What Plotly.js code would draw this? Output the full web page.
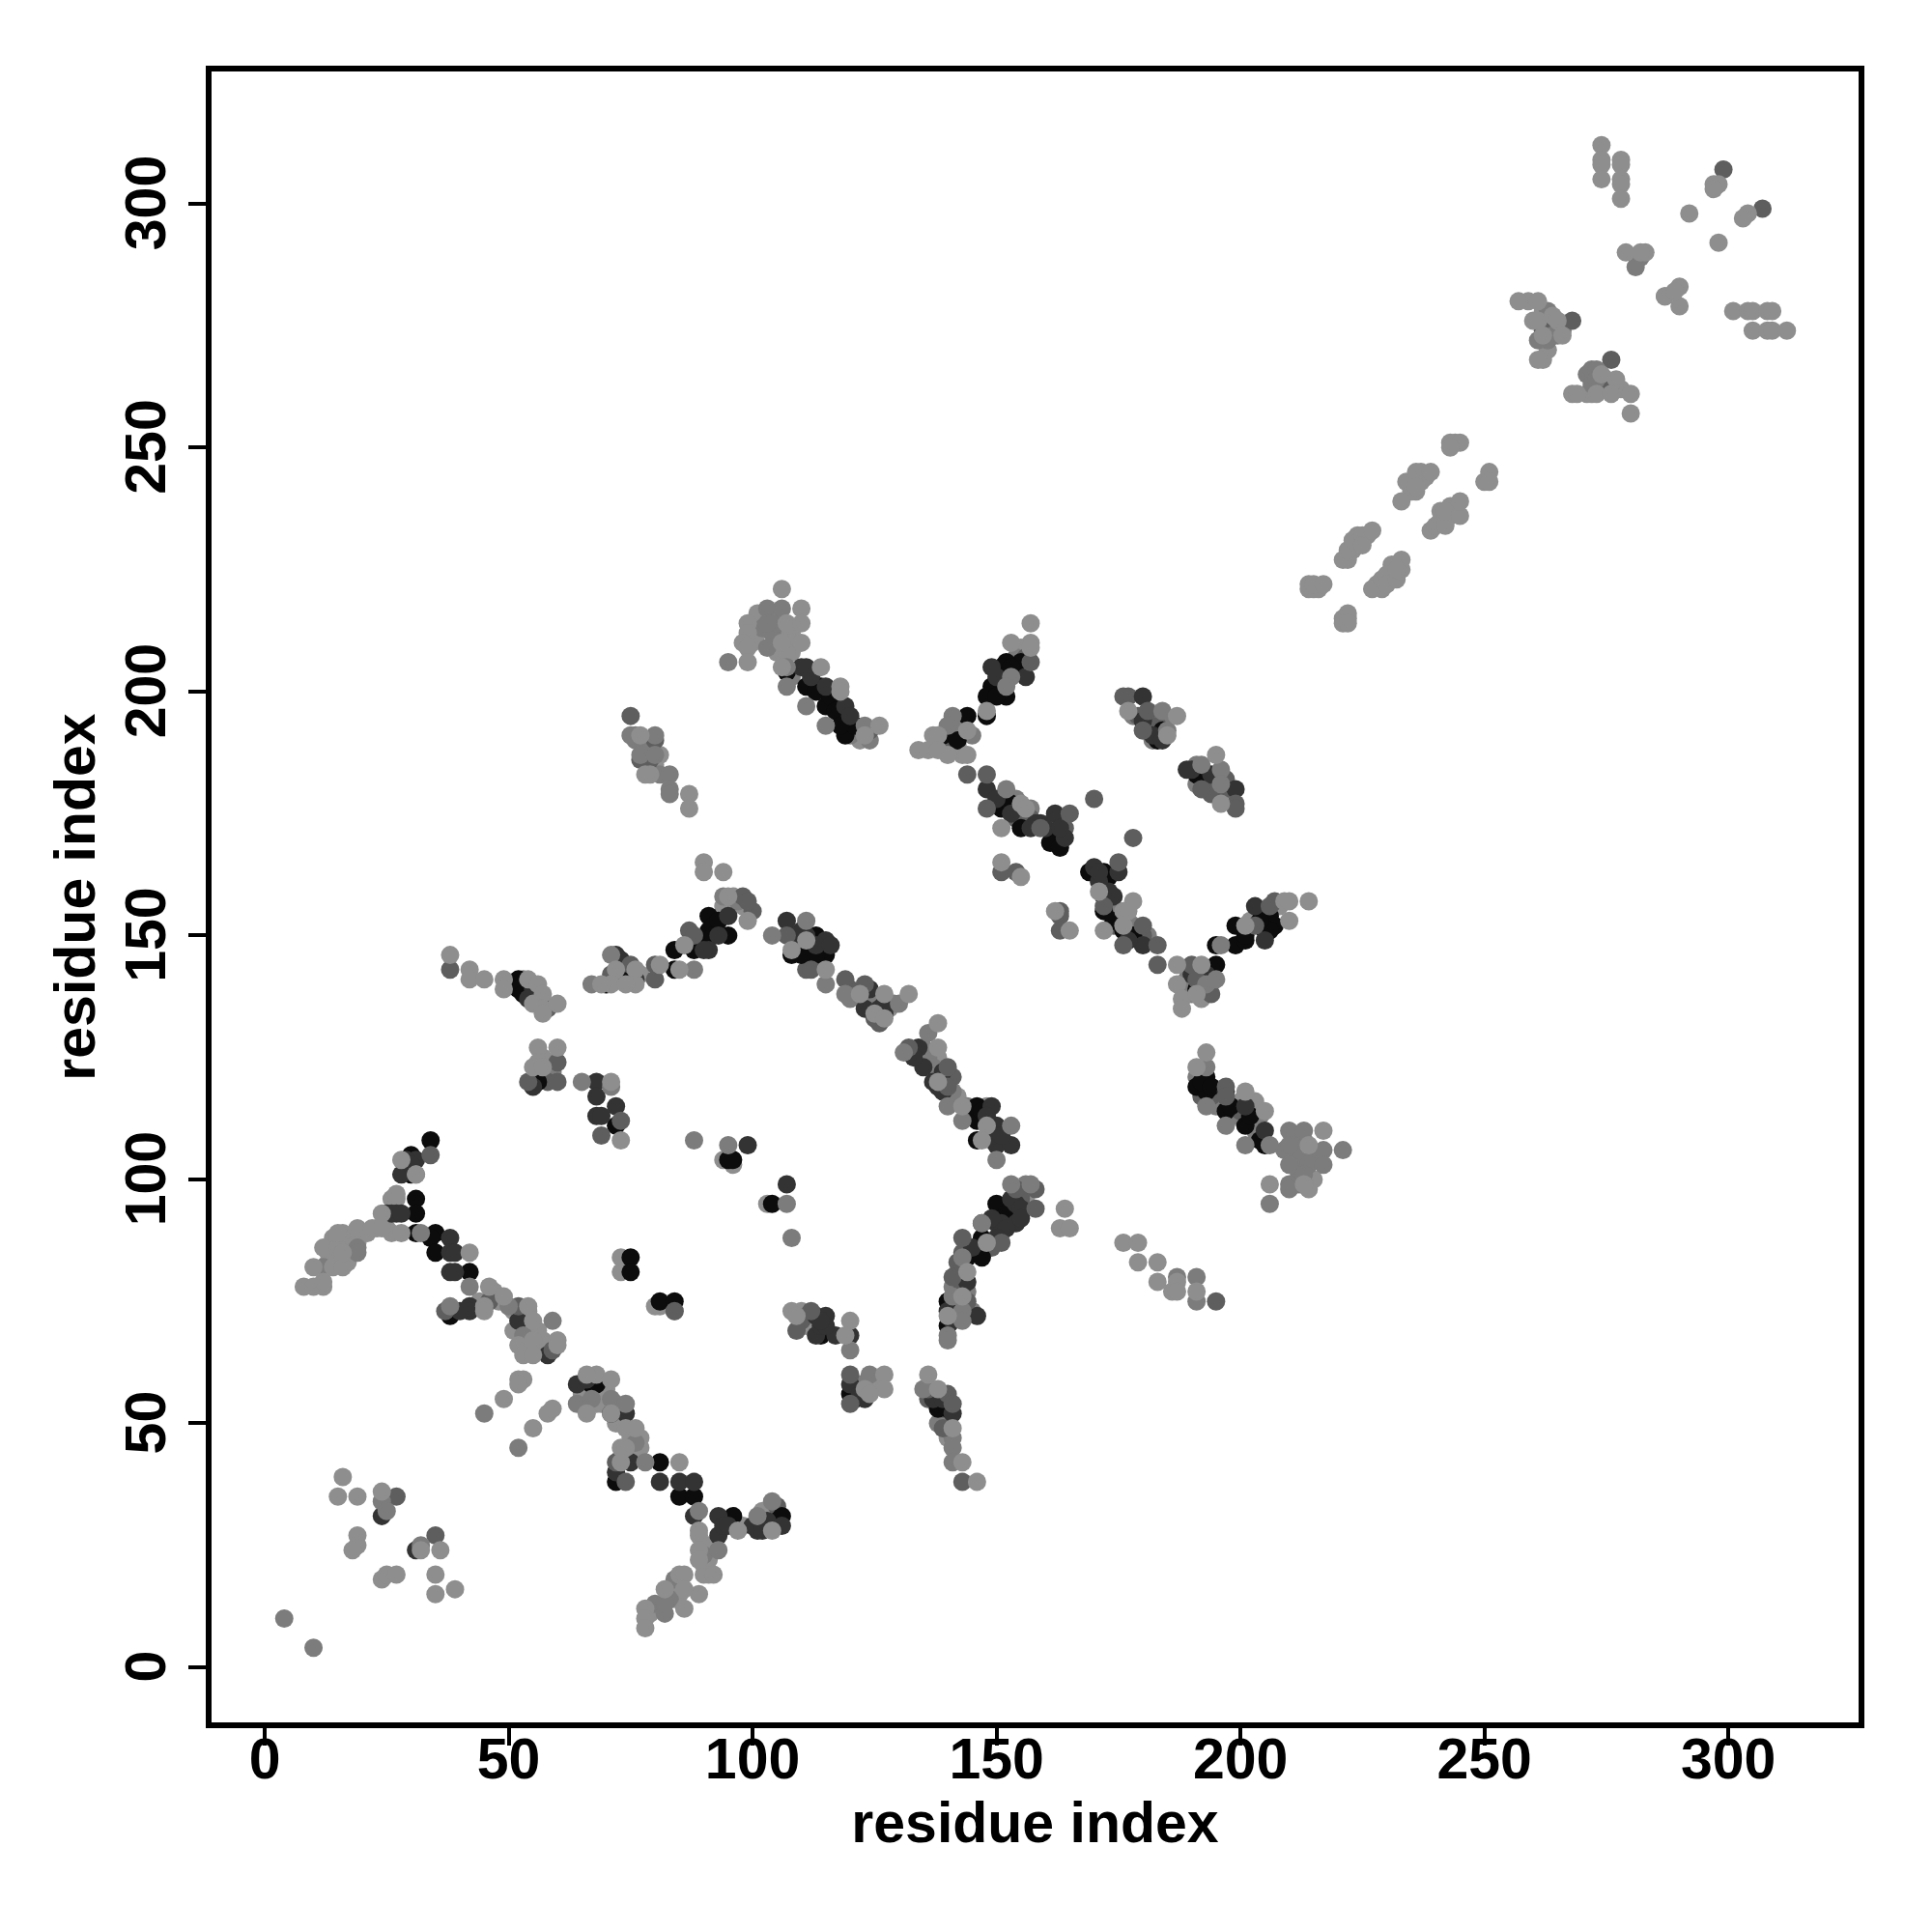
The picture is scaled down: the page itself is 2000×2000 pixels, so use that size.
<!DOCTYPE html>
<html><head><meta charset="utf-8">
<script src="https://cdn.plot.ly/plotly-3.0.1.min.js"></script>
<style>html,body{margin:0;padding:0;background:#fff}</style></head>
<body><div id="chart" style="width:2000px;height:2000px"></div>
<script>
const underBlack=[[73,84],[73,81],[80,74],[81,74],[84,73],[94,104],[96,103],[103,95],[107,204],[66,58],[137,191]];
const blackContacts=[[34,108],[30,105],[31,96],[31,93],[30,101],[31,89],[35,89],[34,88],[35,85],[42,81],[38,72],[67,58],[68,58],[72,38],[81,42],[85,35],[88,35],[96,31],[105,30],[120,56],[138,53],[52,141],[52,139],[56,120],[72,111],[95,104],[96,104],[104,95],[75,84],[75,81],[81,75],[84,75],[91,154],[91,151],[95,150],[88,147],[84,147],[84,143],[74,141],[73,141],[70,140],[108,146],[112,146],[115,146],[146,115],[146,112],[146,108],[150,95],[147,88],[144,84],[147,84],[140,75],[140,70],[107,204],[111,201],[114,201],[115,197],[118,197],[119,193],[119,191],[121,193],[155,206],[152,206],[149,201],[152,199],[148,199],[148,195],[144,195],[139,191],[151,176],[155,172],[162,171],[162,169],[163,170],[169,163],[172,163],[172,155],[176,151],[184,192],[183,190],[192,183],[191,139],[195,144],[195,148],[199,152],[199,148],[201,149],[206,153],[206,154],[193,121],[191,119],[193,118],[197,114],[201,111],[205,107]];
const blackDense=[[92,152],[93,153],[89,149],[92,150],[114,147],[113,146],[109,147],[110,146],[113,150],[75,142],[145,113],[147,114],[149,110],[141,73],[152,93],[151,200],[151,205],[153,205],[150,199],[113,200],[116,199],[117,196],[118,193],[153,177],[142,190],[161,169],[163,168],[173,162],[172,158],[174,153],[178,150],[201,150],[205,151],[207,152],[206,151],[204,153],[192,120],[194,119],[198,115],[202,113],[204,108],[191,183],[53,138],[114,68],[121,55],[138,54],[140,53],[106,31]];
const darkContacts=[[28,101],[31,104],[27,93],[25,93],[38,88],[38,85],[39,85],[38,81],[39,81],[24,31],[31,24],[42,74],[42,73],[40,73],[52,71],[58,64],[64,58],[66,59],[74,52],[71,52],[75,42],[81,38],[85,38],[88,38],[88,31],[93,31],[93,27],[101,28],[103,30],[68,120],[68,117],[72,115],[68,113],[69,113],[99,107],[107,99],[72,146],[95,154],[91,147],[107,153],[108,150],[115,149],[111,150],[123,135],[127,134],[134,127],[135,123],[138,119],[149,115],[150,111],[150,107],[153,107],[154,95],[147,91],[150,91],[151,91],[154,91],[144,79],[146,72],[140,73],[113,72],[115,72],[113,68],[117,68],[120,68],[123,55],[141,52],[110,205],[111,205],[115,201],[119,197],[149,205],[156,203],[148,180],[159,173],[162,175],[164,170],[170,164],[175,163],[173,159],[180,148],[180,199],[190,184],[194,183],[199,180],[203,156],[205,149],[201,115],[205,110]];
const darkDense=[[29,104],[30,103],[26,93],[28,93],[72,40],[93,150],[90,147],[73,145],[76,141],[110,151],[113,148],[116,148],[124,139],[126,135],[127,136],[133,125],[139,122],[137,120],[139,118],[148,113],[150,109],[151,109],[141,71],[149,92],[152,90],[153,96],[150,88],[155,94],[155,92],[145,86],[112,203],[120,195],[150,203],[150,178],[153,175],[158,173],[160,172],[163,172],[157,172],[171,161],[174,158],[177,149],[171,163],[190,142],[193,142],[197,118],[180,194],[182,191],[184,190],[189,184],[55,119],[55,139],[54,137],[56,136],[57,136],[114,70],[115,70],[114,71],[120,58],[122,56],[137,56],[137,55],[139,55],[94,29],[95,29],[100,29],[102,28],[106,29]];
const midContacts=[[27,35],[35,27],[34,105],[37,73],[46,75],[52,74],[59,65],[38,143],[54,120],[60,120],[60,124],[73,112],[69,109],[84,73],[71,142],[72,42],[74,38],[87,151],[88,150],[98,158],[99,157],[80,141],[80,144],[75,144],[107,150],[112,143],[119,141],[123,140],[126,132],[132,127],[140,123],[140,119],[154,98],[158,98],[158,94],[151,87],[143,88],[141,80],[144,75],[109,69],[112,73],[120,60],[120,54],[136,57],[140,56],[141,54],[139,49],[143,38],[75,195],[80,190],[77,186],[157,206],[144,183],[148,183],[148,176],[159,172],[165,175],[170,178],[178,170],[151,163],[154,163],[163,155],[163,154],[163,151],[175,165],[172,156],[180,152],[176,148],[183,148],[183,144],[176,199],[181,196],[180,192],[192,180],[199,177],[199,176],[190,144],[191,141],[203,152],[206,156],[197,119],[197,117],[195,75],[299,307],[307,299],[268,276],[276,268]];
const midDense=[[100,155],[114,144],[111,143],[120,139],[125,133],[141,121],[143,78],[142,83],[143,85],[149,86],[151,89],[155,96],[124,192],[140,190],[154,204],[155,205],[156,207],[152,178],[154,174],[157,174],[161,173],[164,172],[180,150],[174,152],[191,143],[192,141],[193,139],[194,138],[207,157],[194,117],[200,114],[192,117],[177,199],[179,195],[181,192],[183,193],[193,182],[195,183],[197,182],[193,181],[197,180],[194,179],[58,120],[54,139],[55,138],[56,137],[58,135],[110,71],[136,55],[139,56],[139,53],[105,33],[262,274],[274,263],[79,186]];
const greyContacts=[[4,10],[10,4],[24,34],[25,32],[32,25],[12,82],[19,86],[19,85],[31,101],[32,89],[42,78],[38,74],[50,74],[53,68],[59,71],[45,52],[52,45],[64,54],[67,55],[71,55],[74,54],[76,46],[78,42],[89,32],[93,24],[101,31],[104,34],[82,11],[82,13],[88,108],[95,107],[107,95],[108,88],[65,120],[71,119],[67,140],[71,146],[88,143],[94,158],[111,153],[104,150],[115,140],[119,138],[130,136],[136,130],[131,126],[140,115],[143,112],[153,111],[150,104],[153,99],[157,99],[147,91],[143,84],[143,73],[143,71],[141,76],[140,68],[140,67],[120,65],[124,60],[135,57],[141,45],[141,42],[187,80],[191,80],[191,75],[103,217],[106,217],[103,214],[103,209],[95,206],[107,205],[107,201],[111,197],[115,193],[123,193],[75,191],[80,191],[77,187],[80,187],[83,183],[83,180],[83,179],[141,195],[140,193],[153,203],[152,201],[152,180],[184,196],[185,192],[192,185],[196,184],[196,181],[193,140],[195,141],[196,148],[193,123],[193,115],[197,111],[201,107],[206,107],[206,95],[210,110],[213,110],[221,106],[210,107],[210,103],[214,103],[217,106],[217,103],[210,99],[210,98],[213,101],[273,266],[273,264],[264,273],[282,289],[281,287],[287,281],[261,272]];
const greyDense=[[97,157],[72,142],[112,149],[120,137],[125,136],[129,136],[135,127],[136,125],[137,123],[141,118],[144,115],[141,78],[142,74],[144,77],[145,73],[156,99],[108,203],[120,191],[122,192],[124,190],[102,213],[104,212],[105,214],[154,207],[142,192],[139,189],[145,191],[154,178],[157,176],[175,155],[181,150],[178,152],[189,141],[190,138],[192,122],[195,115],[199,113],[203,112],[204,113],[203,110],[191,121],[211,105],[212,104],[213,108],[215,105],[212,101],[212,99],[209,106],[211,108],[178,195],[182,194],[183,192],[182,190],[184,194],[191,185],[191,181],[195,180],[76,191],[78,190],[78,189],[78,188],[81,183],[76,190],[59,122],[50,140],[53,141],[111,72],[122,58],[140,51],[138,50],[141,47],[90,23],[84,18],[83,14],[80,13],[262,275],[263,272],[265,273],[266,274],[263,278],[271,265],[272,263],[274,262],[276,263],[272,266]];
const lightContacts=[[16,39],[15,35],[19,35],[24,36],[19,27],[19,25],[18,24],[36,24],[32,24],[35,19],[39,16],[35,15],[24,18],[25,19],[27,19],[8,78],[10,78],[12,78],[12,79],[10,82],[14,82],[16,82],[12,86],[15,86],[16,85],[15,89],[19,90],[22,90],[24,90],[28,89],[24,93],[27,97],[31,101],[28,104],[42,85],[46,78],[45,74],[45,73],[49,76],[54,74],[55,71],[52,66],[55,67],[53,64],[55,64],[60,67],[60,66],[49,55],[52,59],[53,59],[52,58],[55,49],[58,52],[59,53],[68,60],[71,59],[66,52],[66,60],[71,52],[73,45],[74,45],[74,49],[76,49],[73,42],[85,42],[89,28],[89,27],[89,24],[89,22],[90,19],[92,19],[97,28],[104,28],[89,15],[85,19],[86,19],[86,16],[86,12],[82,16],[78,12],[78,10],[78,8],[38,146],[42,143],[42,141],[45,141],[49,141],[49,139],[54,141],[56,140],[57,138],[55,136],[57,135],[57,134],[60,136],[56,127],[60,127],[56,124],[55,123],[57,123],[71,120],[73,108],[90,165],[90,163],[94,163],[95,158],[99,153],[86,148],[85,143],[81,144],[72,143],[76,143],[71,140],[69,140],[76,140],[74,140],[108,147],[111,149],[115,143],[122,138],[127,138],[132,138],[125,134],[127,133],[138,132],[138,127],[138,120],[143,115],[148,111],[147,108],[148,87],[144,81],[143,76],[140,72],[164,94],[163,90],[165,90],[176,87],[179,87],[179,83],[183,83],[183,79],[187,79],[186,77],[187,77],[191,77],[108,73],[109,72],[120,71],[119,68],[123,57],[127,60],[127,57],[124,56],[136,60],[138,57],[141,49],[143,42],[146,38],[77,191],[79,183],[78,183],[87,179],[87,176],[106,221],[110,217],[99,214],[99,212],[107,214],[110,214],[98,210],[99,209],[106,210],[110,210],[99,206],[106,205],[114,205],[118,201],[118,200],[126,193],[123,191],[157,214],[153,210],[157,210],[157,209],[148,196],[144,192],[138,191],[144,187],[140,187],[134,188],[136,188],[138,188],[151,172],[155,177],[156,176],[151,165],[155,162],[162,155],[165,151],[171,159],[176,155],[177,155],[172,151],[176,152],[187,144],[177,196],[187,195],[185,191],[195,187],[196,177],[187,140],[188,137],[188,135],[191,138],[192,144],[201,152],[209,157],[210,157],[210,153],[214,157],[193,126],[191,123],[201,118],[205,114],[206,99],[217,110],[214,107],[213,99],[214,221],[214,222],[215,222],[217,222],[222,216],[221,214],[222,214],[221,227],[222,229],[223,231],[225,232],[225,230],[227,233],[227,221],[229,223],[230,224],[230,222],[232,223],[233,227],[232,225],[233,239],[234,243],[236,245],[236,242],[239,245],[239,233],[240,234],[242,234],[242,237],[245,236],[245,239],[243,251],[245,251],[243,250],[250,243],[251,245],[251,243],[274,312],[274,309],[274,308],[274,305],[278,309],[278,308],[278,305],[278,304],[278,301],[297,304],[298,304],[297,303],[292,298],[304,298],[303,297],[298,292],[279,290],[283,290],[282,290],[290,283],[287,281],[290,279],[289,282],[301,278],[304,278],[305,278],[308,278],[309,278],[305,274],[308,274],[309,274],[312,274],[257,280],[261,280],[260,276],[261,276],[264,277],[265,276],[262,273],[266,273],[262,268],[261,268],[277,264],[268,261],[269,261],[273,261],[276,261],[280,261],[280,257],[274,265]];
const lightDense=[[14,88],[15,88],[16,89],[17,88],[18,88],[19,87],[17,86],[18,85],[13,83],[13,85],[14,85],[15,84],[16,84],[17,83],[20,89],[21,89],[23,90],[25,90],[26,89],[26,96],[27,96],[43,74],[44,75],[47,77],[48,75],[51,73],[53,72],[54,73],[53,70],[54,70],[56,69],[56,66],[57,67],[58,66],[54,66],[51,69],[65,56],[65,55],[67,54],[68,54],[69,55],[69,54],[70,57],[72,54],[73,52],[72,50],[75,47],[74,43],[73,43],[75,44],[77,47],[77,45],[96,158],[94,156],[98,156],[74,143],[77,142],[126,137],[128,135],[138,125],[142,117],[148,115],[149,108],[142,72],[142,77],[142,81],[156,96],[122,190],[100,210],[101,212],[105,211],[104,213],[108,212],[108,210],[101,216],[105,216],[108,208],[105,208],[107,208],[155,208],[155,209],[142,189],[143,187],[143,193],[141,188],[156,175],[177,153],[179,150],[178,157],[189,139],[192,137],[202,153],[208,156],[196,116],[200,116],[203,116],[215,100],[214,98],[58,122],[57,125],[58,124],[57,121],[51,140],[110,73],[111,70],[124,58],[125,58],[140,50],[140,47],[90,25],[91,22],[91,25],[98,29],[102,32],[91,19],[90,21],[84,17],[85,15],[84,14],[79,11],[263,276],[263,270],[259,280],[262,278],[275,264],[275,262],[278,262],[271,261],[272,261],[223,229],[224,230],[224,232],[222,227],[226,232],[229,221],[231,224],[228,222],[231,226],[233,225],[236,241],[235,242],[237,243],[238,244],[235,241],[237,245],[241,235],[243,236],[243,238],[244,237],[241,237],[244,251],[215,221],[216,221],[221,215],[222,215],[79,188],[80,185],[81,187]];
const tickValues=[0,50,100,150,200,250,300];
const tickLabels=["0","50","100","150","200","250","300"];
const axisTitle="residue index";

const LIGHT="#8e8e8e",GREY="#7c7c7c",MID="#5e5e5e",DARK="#333333",BLACK="#0c0c0c";
const layers=[[lightDense,LIGHT],[greyDense,GREY],[underBlack,LIGHT],[midDense,MID],[blackContacts.concat(blackDense),BLACK],[darkContacts.concat(darkDense),DARK],[midContacts,MID],[greyContacts,GREY],[lightContacts,LIGHT]];
const traces=layers.map(([pts,color])=>({type:"scatter",mode:"markers",x:pts.map(p=>p[0]),y:pts.map(p=>p[1]),
  marker:{color:color,size:19,line:{width:0}},hoverinfo:"skip",showlegend:false}));
const font={family:"Liberation Sans, Arial, sans-serif",size:59,color:"#000",weight:700};
function ax(extra){return Object.assign({tickmode:"array",tickvals:tickValues,ticktext:tickLabels,ticks:"outside",ticklen:18,tickwidth:4,tickcolor:"#000",
  showline:true,linecolor:"#000",linewidth:6,mirror:true,showgrid:false,zeroline:false,tickfont:font,automargin:false},extra);}
Plotly.newPlot("chart",traces,{
  width:2000,height:2000,paper_bgcolor:"#fff",plot_bgcolor:"#fff",showlegend:false,
  margin:{l:219,r:76,t:74,b:217,pad:0},
  xaxis:ax({range:[-10.9,326.7],tickangle:0,ticklabelstandoff:-37,title:{text:axisTitle,font:font,standoff:3}}),
  yaxis:ax({range:[-11.3,327.1],tickangle:-90,ticklabelshift:8,title:{text:axisTitle,font:font,standoff:3}})
},{displayModeBar:false,staticPlot:true});
</script></body></html>
